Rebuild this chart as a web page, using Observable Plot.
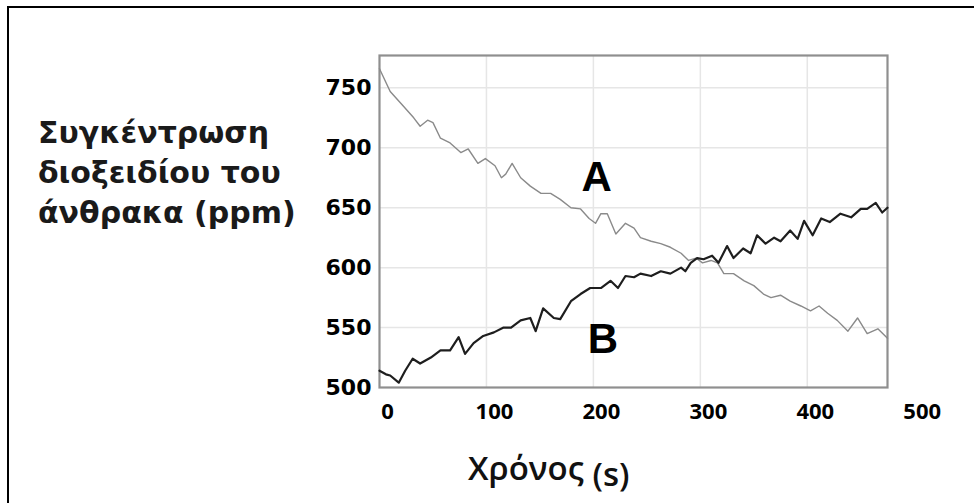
<!DOCTYPE html>
<html>
<head>
<meta charset="utf-8">
<script src="https://cdn.jsdelivr.net/npm/d3@7"></script>
<script src="https://cdn.jsdelivr.net/npm/@observablehq/plot@0.6"></script>
<style>
  html, body { margin: 0; padding: 0; background: #fff; }
  #wrap { position: relative; width: 974px; height: 503px; overflow: hidden; background: #fff; }
  #wrap > svg { position: absolute; left: 0; top: 0; }
  #border { position: absolute; left: 7px; top: 6px; width: 1000px; height: 600px;
            border-top: 2.5px solid #000; border-left: 2.5px solid #000; box-sizing: border-box; }
  #overlay { position: absolute; left: 0; top: 0; pointer-events: none; }
</style>
</head>
<body>
<div id="wrap"><div id="border"></div></div>
<script>
// Series A (grey, falling) — time (s) and CO2 (ppm)
const timeA = [0,10,22,32,38,45,50,57,66,76,83,92,99,108,114,118,124,132,141,151,160,169,179,188,196,202,207,213,221,230,238,244,254,263,272,282,289,296,302,310,316,322,331,341,350,359,366,375,384,394,403,411,419,428,438,447,456,466,475];
const valueA = [766,747,735,725,718,723,721,708,704,696,699,687,691,685,675,678,687,675,668,662,662,657,650,649,641,637,645,645,628,637,633,625,622,620,617,612,606,608,604,606,604,595,595,589,585,578,575,577,572,568,564,568,562,556,547,558,545,549,541];
// Series B (black, rising)
const timeB = [0,6,10,18,24,31,38,48,57,66,74,80,88,97,107,116,123,132,141,146,153,163,169,179,188,197,207,216,223,230,238,244,254,263,272,282,286,291,297,303,311,317,325,331,340,347,353,361,369,375,384,391,397,405,413,421,431,441,450,456,464,470,475];
const valueB = [514,511,510,504,514,524,520,525,531,531,542,528,537,543,546,550,550,556,558,547,566,558,557,572,578,583,583,589,583,593,592,595,593,597,595,600,597,604,608,607,610,604,618,608,616,612,627,620,625,622,631,624,639,627,641,638,645,642,649,649,654,646,650];
// Curve labels
const curveNames = ["A", "B"];
const curveLabelX = [203, 209];
const curveLabelY = [675, 540];
// Axis ticks and gridlines
const xTickLabels = [0, 100, 200, 300, 400, 500];
const yTickLabels = [500, 550, 600, 650, 700, 750];
const xGridValues = [100, 200, 300, 400];
const yGridValues = [550, 600, 650, 700, 750];
// Titles
const yTitleLines = ["Συγκέντρωση", "διοξειδίου του", "άνθρακα (ppm)"];
const xTitleMain = "Χρόνος";
const xTitleUnit = "(s)";

const seriesA = timeA.map((t, i) => ({t, v: valueA[i]}));
const seriesB = timeB.map((t, i) => ({t, v: valueB[i]}));
const labels = curveNames.map((name, i) => ({name, t: curveLabelX[i], v: curveLabelY[i]}));

const chart = Plot.plot({
  width: 974,
  height: 503,
  marginLeft: 379,
  marginRight: 87,
  marginTop: 55,
  marginBottom: 116,
  style: {background: "transparent", color: "#000"},
  x: {domain: [0, 475], axis: null},
  y: {domain: [500, 777], axis: null},
  marks: [
    Plot.gridX(xGridValues, {stroke: "#e6e6e6", strokeOpacity: 1, strokeWidth: 1.5}),
    Plot.gridY(yGridValues, {stroke: "#e6e6e6", strokeOpacity: 1, strokeWidth: 1.5}),
    Plot.frame({stroke: "#8f8f8f", strokeWidth: 2.2}),
    Plot.line(seriesA, {x: "t", y: "v", stroke: "#8a8a8a", strokeWidth: 1.4}),
    Plot.line(seriesB, {x: "t", y: "v", stroke: "#1e1e1e", strokeWidth: 2.2}),
    Plot.text(labels, {x: "t", y: "v", text: "name", fontSize: 42, fontWeight: "bold",
      fontFamily: "Liberation Sans", fill: "#000"}),
    Plot.axisY(yTickLabels, {tickSize: 0, tickPadding: 8, fontSize: 22, fontWeight: "bold",
      fontFamily: "DejaVu Sans", fill: "#000", label: null}),
    Plot.axisX(xTickLabels, {tickSize: 0, tickPadding: 16, dx: 8, fontSize: 22, fontWeight: "bold",
      fontFamily: "Open Sans", fill: "#000", label: null})
  ]
});
document.getElementById("wrap").appendChild(chart);

// Axis titles overlay (real text)
const ns = "http://www.w3.org/2000/svg";
const ov = document.createElementNS(ns, "svg");
ov.setAttribute("id", "overlay");
ov.setAttribute("width", 974);
ov.setAttribute("height", 503);
yTitleLines.forEach((line, i) => {
  const t = document.createElementNS(ns, "text");
  t.setAttribute("x", 38);
  t.setAttribute("y", 143 + i * 40);
  t.setAttribute("font-family", "DejaVu Sans");
  t.setAttribute("font-weight", "bold");
  t.setAttribute("font-size", 30);
  t.setAttribute("fill", "#1a1a1a");
  t.textContent = line;
  ov.appendChild(t);
});
const xt = document.createElementNS(ns, "text");
xt.setAttribute("x", 468);
xt.setAttribute("y", 480);
xt.setAttribute("font-family", "Open Sans");
xt.setAttribute("font-weight", 600);
xt.setAttribute("font-size", 33);
xt.setAttribute("fill", "#111");
const s1 = document.createElementNS(ns, "tspan");
s1.textContent = xTitleMain + " ";
const s2 = document.createElementNS(ns, "tspan");
s2.setAttribute("font-size", 33);
s2.setAttribute("dy", 6);
s2.textContent = xTitleUnit;
xt.appendChild(s1);
xt.appendChild(s2);
ov.appendChild(xt);
document.getElementById("wrap").appendChild(ov);
</script>
</body>
</html>
